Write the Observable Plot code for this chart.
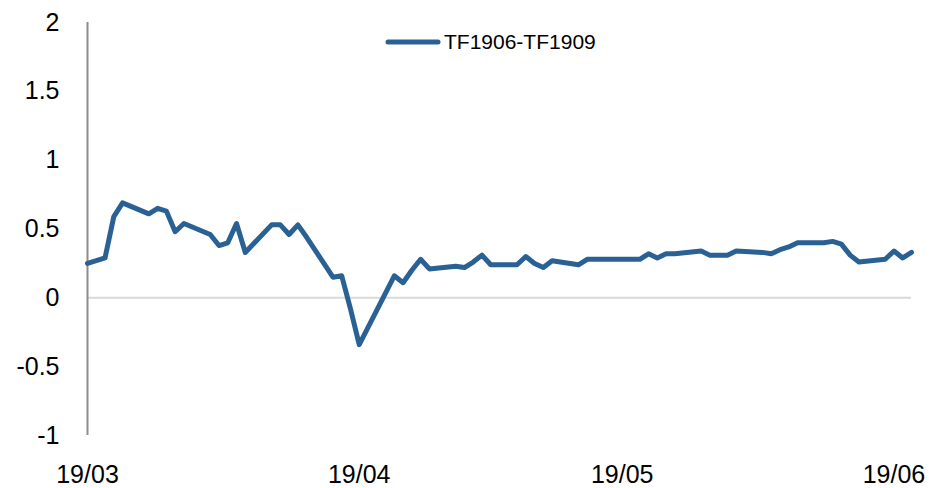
<!DOCTYPE html>
<html>
<head>
<meta charset="utf-8">
<script src="https://cdn.jsdelivr.net/npm/d3@7"></script>
<script src="https://cdn.jsdelivr.net/npm/@observablehq/plot@0.6"></script>
<style>
  html, body { margin: 0; padding: 0; background: #fff; }
  #wrap { position: relative; width: 941px; height: 488px; font-family: "Liberation Sans", Arial, sans-serif; }
  #legend { position: absolute; left: 384px; top: 30px; display: flex; align-items: center; font-size: 21px; color: #000; }
  #legend svg { margin-right: 2px; }
</style>
</head>
<body>
<div id="wrap">
  <div id="chart"></div>
  <div id="legend"><svg width="58" height="10"><line x1="4" y1="5" x2="54" y2="5" stroke="#2a6195" stroke-width="5" stroke-linecap="round"/></svg><span>TF1906-TF1909</span></div>
</div>
<script>
const seriesName = "TF1906-TF1909";
const dates = [
  "2019-03-04","2019-03-05","2019-03-06","2019-03-07","2019-03-08",
  "2019-03-11","2019-03-12","2019-03-13","2019-03-14","2019-03-15",
  "2019-03-18","2019-03-19","2019-03-20","2019-03-21","2019-03-22",
  "2019-03-25","2019-03-26","2019-03-27","2019-03-28","2019-03-29",
  "2019-04-01","2019-04-02","2019-04-03","2019-04-04",
  "2019-04-08","2019-04-09","2019-04-10","2019-04-11","2019-04-12",
  "2019-04-15","2019-04-16","2019-04-17","2019-04-18","2019-04-19",
  "2019-04-22","2019-04-23","2019-04-24","2019-04-25","2019-04-26",
  "2019-04-29","2019-04-30",
  "2019-05-06","2019-05-07","2019-05-08","2019-05-09","2019-05-10",
  "2019-05-13","2019-05-14","2019-05-15","2019-05-16","2019-05-17",
  "2019-05-20","2019-05-21","2019-05-22","2019-05-23","2019-05-24",
  "2019-05-27","2019-05-28","2019-05-29","2019-05-30","2019-05-31",
  "2019-06-03","2019-06-04","2019-06-05","2019-06-06"
];
const spread = [
  0.25, 0.27, 0.29, 0.59, 0.69,
  0.61, 0.65, 0.63, 0.48, 0.54,
  0.46, 0.38, 0.40, 0.54, 0.33,
  0.53, 0.53, 0.46, 0.53, 0.44,
  0.15, 0.16, -0.08, -0.34,
  0.16, 0.11, 0.20, 0.28, 0.21,
  0.23, 0.22, 0.26, 0.31, 0.24,
  0.24, 0.30, 0.25, 0.22, 0.27,
  0.24, 0.28,
  0.28, 0.32, 0.29, 0.32, 0.32,
  0.34, 0.31, 0.31, 0.31, 0.34,
  0.33, 0.32, 0.35, 0.37, 0.40,
  0.40, 0.41, 0.39, 0.31, 0.26,
  0.28, 0.34, 0.29, 0.33
];
const xTickDates = ["2019-03-04","2019-04-04","2019-05-04","2019-06-04"];
const xTickLabels = ["19/03","19/04","19/05","19/06"];
const yTicks = [-1, -0.5, 0, 0.5, 1, 1.5, 2];

const parse = d3.utcParse("%Y-%m-%d");
const data = dates.map((d, i) => ({date: parse(d), value: spread[i]}));
const xDomain = [data[0].date, data[data.length - 1].date];
const tickDates = xTickDates.map(parse);
const labelOf = new Map(tickDates.map((d, i) => [+d, xTickLabels[i]]));

const chart = Plot.plot({
  width: 941,
  height: 488,
  marginLeft: 87,
  marginRight: 30,
  marginTop: 22,
  marginBottom: 53,
  style: {fontFamily: "'Liberation Sans', Arial, sans-serif", fontSize: "25px", color: "#000", background: "#fff"},
  x: {type: "utc", domain: xDomain},
  y: {domain: [-1, 2]},
  marks: [
    Plot.ruleY([0], {stroke: "#d9d9d9", strokeWidth: 2}),
    Plot.ruleX([xDomain[0]], {y1: -1, y2: 2, stroke: "#8c8c8c", strokeWidth: 2}),
    Plot.axisY({ticks: yTicks, tickSize: 0, tickPadding: 28, tickFormat: d => String(d), label: null, fontSize: 25}),
    Plot.axisX({ticks: tickDates, tickSize: 0, tickPadding: 30, tickFormat: d => labelOf.get(+d), label: null, fontSize: 25}),
    Plot.line(data, {x: "date", y: "value", stroke: "#2a6195", strokeWidth: 5, strokeLinejoin: "round", strokeLinecap: "round"})
  ]
});
document.getElementById("chart").appendChild(chart);
</script>
</body>
</html>
